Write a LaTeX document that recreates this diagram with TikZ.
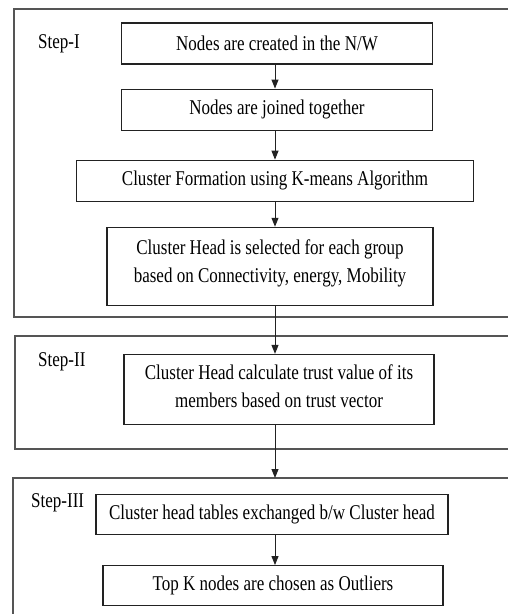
\documentclass[tikz,border=0pt]{standalone}
\usepackage{fontspec}
\setmainfont[FakeStretch=0.81]{Liberation Serif}
\usetikzlibrary{arrows.meta,positioning}
\definecolor{framegray}{HTML}{555555}
\definecolor{boxline}{HTML}{222222}

\begin{document}
\begin{tikzpicture}[
    x=1pt, y=-1pt,
    font=\fontsize{21}{28}\selectfont,
    box/.style={draw=boxline, line width=1.1pt, minimum height=41pt, align=center, inner sep=2pt},
    stage/.style={draw=framegray, line width=1.3pt},
    steplabel/.style={anchor=west, inner sep=0pt},
    arrow/.style={-{Triangle[length=9pt,width=7pt]}, line width=1pt, draw=boxline}
]
\useasboundingbox (0,0) rectangle (508,614);
\clip (0,0) rectangle (508,614);

% stage frames (run off the right and bottom edge)
\draw[stage] (14,9) rectangle (530,317);
\draw[stage] (15,336) rectangle (530,449);
\draw[stage] (13,478) rectangle (530,640);
\coordinate (spine) at (275,0);
\coordinate (s3top) at (275,478);

\node[steplabel] (stepone) at (38,44) {Step-I};
\node[steplabel] (steptwo) at (38,362) {Step-II};
\node[steplabel] (stepthree) at (31,503) {Step-III};

% Step-I
\node[box, minimum width=311pt] (created) at (277,43.5) {Nodes are created in the N/W};
\node[box, minimum width=311pt, below=24pt of created] (joined) {Nodes are joined together};
\node[box, minimum width=397pt, below=29pt of joined, xshift=-2pt] (kmeans) {Cluster Formation using K-means Algorithm};
\node[box, minimum width=326pt, minimum height=78pt, below=25pt of kmeans, xshift=-5pt] (chead) {Cluster Head is selected for each group\\based on Connectivity, energy, Mobility\\[-18pt]};

% Step-II
\node[box, minimum width=310pt, minimum height=70pt, below=48pt of chead, xshift=9pt] (trust) {Cluster Head calculate trust value of its\\members based on trust vector\\[-22pt]};

% Step-III
\node[box, minimum width=352pt, minimum height=40pt, below=69pt of trust, xshift=-7pt] (exchange) {Cluster head tables exchanged b/w Cluster head};
\node[box, minimum width=340pt, minimum height=40pt, below=30pt of exchange, xshift=1pt] (outliers) {Top K nodes are chosen as Outliers};

\draw[arrow] (spine |- created.south) -- (spine |- joined.north);
\draw[arrow] (spine |- joined.south) -- (spine |- kmeans.north);
\draw[arrow] (spine |- kmeans.south) -- (spine |- chead.north);
\draw[arrow] (spine |- chead.south) -- (spine |- trust.north);
\draw[arrow] (spine |- trust.south) -- (s3top);
\draw[arrow] (spine |- exchange.south) -- (spine |- outliers.north);
\end{tikzpicture}
\end{document}
